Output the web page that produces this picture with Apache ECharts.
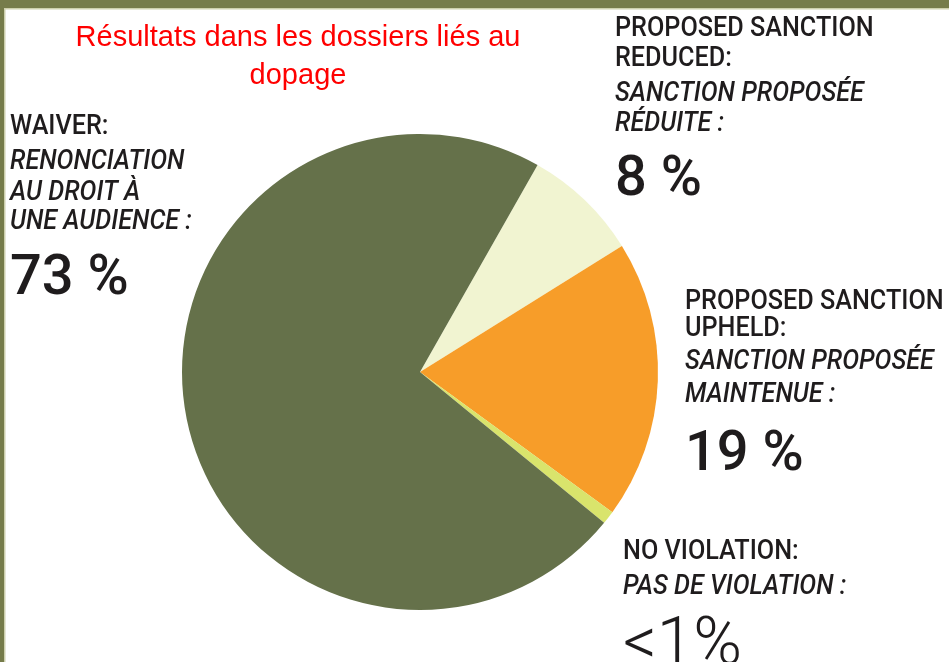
<!DOCTYPE html>
<html>
<head>
<meta charset="utf-8">
<script src="https://cdn.jsdelivr.net/npm/echarts@6/dist/echarts.min.js"></script>
<style>
html,body{margin:0;padding:0;background:#fff;}
#chart{width:949px;height:662px;}
</style>
</head>
<body>
<div id="chart"></div>
<script>
// ---- data ----
const titleText = 'Résultats dans les dossiers liés au\ndopage';
const categories = ['Proposed sanction reduced', 'Proposed sanction upheld', 'No violation', 'Waiver'];
const values = [7.9, 18.9, 0.9, 72.3];
const colors = ['#f1f4d1', '#f79d29', '#d9e46c', '#65714a'];
const pctLabels = ['8 %', '19 %', '<1%', '73 %'];
const enLabels = [
  ['PROPOSED SANCTION', 'REDUCED:'],
  ['PROPOSED SANCTION', 'UPHELD:'],
  ['NO VIOLATION:'],
  ['WAIVER:']
];
const frLabels = [
  ['SANCTION PROPOSÉE', 'RÉDUITE :'],
  ['SANCTION PROPOSÉE', 'MAINTENUE :'],
  ['PAS DE VIOLATION :'],
  ['RENONCIATION', 'AU DROIT À', 'UNE AUDIENCE :']
];

// ---- layout of label blocks (x, baselines of text lines, baseline of percent) ----
const blocks = [
  { x: 615, lines: [37, 67, 102, 132], pct: 197, pctSize: 56, pctWeight: 500 },
  { x: 685, lines: [310, 337, 370, 403], pct: 472, pctSize: 56, pctWeight: 500 },
  { x: 623, lines: [560, 595], pct: 667, pctSize: 66, pctWeight: 300 },
  { x: 10, lines: [135, 170, 201, 230], pct: 296, pctSize: 56, pctWeight: 500 }
];

const TEXT_COLOR = '#1f1c1d';
function txt(x, base, text, size, weight, style, sx) {
  return {
    type: 'text',
    x: x,
    y: base - 0.29 * size,
    scaleX: sx,
    silent: true,
    style: {
      text: text,
      fontSize: size,
      fontFamily: 'Roboto',
      fontWeight: weight,
      fontStyle: style,
      fill: TEXT_COLOR,
      align: 'left',
      verticalAlign: 'middle'
    }
  };
}

const graphics = [
  { type: 'rect', shape: { x: 0, y: 0, width: 949, height: 8 }, style: { fill: '#767c4b' }, silent: true },
  { type: 'rect', shape: { x: 0, y: 8, width: 949, height: 1.5 }, style: { fill: '#cdd0ad' }, silent: true },
  { type: 'rect', shape: { x: 0, y: 0, width: 4, height: 662 }, style: { fill: '#767c4b' }, silent: true },
  { type: 'rect', shape: { x: 4, y: 8, width: 1.5, height: 654 }, style: { fill: '#cdd0ad' }, silent: true }
];

blocks.forEach(function (b, i) {
  let k = 0;
  enLabels[i].forEach(function (t) {
    graphics.push(txt(b.x, b.lines[k++], t, 28, 500, 'normal', 0.9));
  });
  frLabels[i].forEach(function (t) {
    graphics.push(txt(b.x, b.lines[k++], t, 28, 500, 'italic', 0.9));
  });
  graphics.push(txt(b.x, b.pct, pctLabels[i], b.pctSize, b.pctWeight, 'normal', 1));
});

const chart = echarts.init(document.getElementById('chart'), null, { renderer: 'canvas' });
chart.setOption({
  animation: false,
  backgroundColor: '#ffffff',
  title: {
    text: titleText,
    left: 293,
    top: 14,
    textAlign: 'center',
    textStyle: {
      color: '#ff0000',
      fontSize: 29,
      fontWeight: 'normal',
      fontFamily: 'Liberation Sans',
      lineHeight: 38
    }
  },
  series: [{
    type: 'pie',
    center: [420, 372],
    radius: 238,
    startAngle: 60.4,
    clockwise: true,
    silent: true,
    label: { show: false },
    labelLine: { show: false },
    itemStyle: { borderWidth: 0 },
    data: categories.map(function (c, i) {
      return { name: c, value: values[i], itemStyle: { color: colors[i] } };
    })
  }],
  graphic: graphics
});
</script>
</body>
</html>
